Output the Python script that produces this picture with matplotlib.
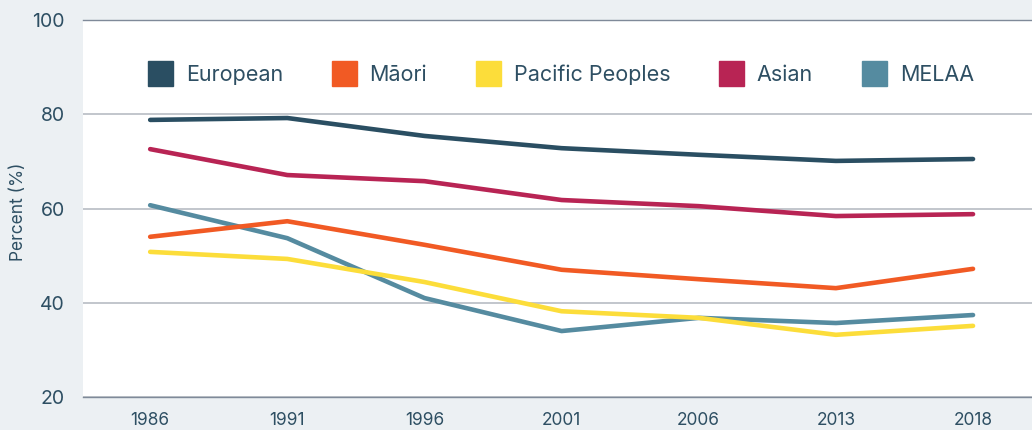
import matplotlib.pyplot as plt
from matplotlib.lines import Line2D

plt.rcParams["font.family"] = ["Inter", "DejaVu Sans"]

years = ["1986", "1991", "1996", "2001", "2006", "2013", "2018"]
european = [78.8, 79.2, 75.4, 72.8, 71.4, 70.1, 70.5]
maori = [54.0, 57.3, 52.3, 47.0, 45.0, 43.1, 47.2]
pacific = [50.8, 49.3, 44.4, 38.2, 36.8, 33.2, 35.1]
asian = [72.6, 67.1, 65.8, 61.8, 60.5, 58.4, 58.8]
melaa = [60.7, 53.7, 41.0, 34.0, 36.8, 35.7, 37.4]

names = ["European", "Māori", "Pacific Peoples", "Asian", "MELAA"]
colors = ["#2a4e62", "#f15a24", "#fcdd3a", "#b82454", "#558ba0"]
series = [european, maori, pacific, asian, melaa]

text_col = "#2e4f63"
bg = "#ecf0f3"

fig = plt.figure(figsize=(10.32, 4.30), dpi=100, facecolor=bg)
ax = fig.add_axes([0.0804, 0.0767, 0.9196, 0.8768])
ax.set_facecolor("white")

x = list(range(len(years)))
# MELAA goes under the others, as in the original
order = [4, 2, 1, 3, 0]
for i in order:
    ax.plot(x, series[i], color=colors[i], lw=3.3, solid_capstyle="round",
            solid_joinstyle="round", zorder=3)

ax.set_xlim(-0.49, 6.43)
ax.set_ylim(20, 100)
ax.set_yticks([20, 40, 60, 80, 100])
ax.set_xticks(x)
ax.set_xticklabels(years)
ax.grid(axis="y", color="#b8bcc4", lw=1.2, zorder=1)
for s in ["left", "right"]:
    ax.spines[s].set_visible(False)
for s in ["top", "bottom"]:
    ax.spines[s].set_color("#7f8a99")
    ax.spines[s].set_linewidth(1.0)
ax.tick_params(axis="both", length=0, colors=text_col)
ax.tick_params(axis="y", labelsize=14, pad=13)
ax.tick_params(axis="x", labelsize=12.5, pad=11)
ax.set_ylabel("Percent (%)", color=text_col, fontsize=12.5)
ax.yaxis.set_label_coords(-0.059, 0.49)

handles = [Line2D([], [], marker="s", ls="none", markersize=18,
                  markerfacecolor=c, markeredgecolor=c) for c in colors]
leg = ax.legend(handles, names, loc="center left", bbox_to_anchor=(0.05, 0.855),
                ncol=5, frameon=False, fontsize=15.5, handletextpad=0.72,
                columnspacing=2.35, handlelength=0.95)
for t in leg.get_texts():
    t.set_color(text_col)

fig.savefig("out.png", dpi=100, facecolor=bg)
